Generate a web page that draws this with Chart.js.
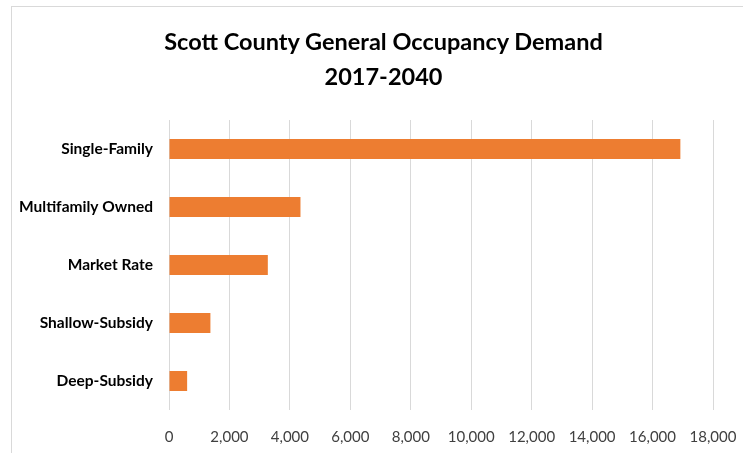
<!DOCTYPE html>
<html>
<head>
<meta charset="utf-8">
<script src="https://cdn.jsdelivr.net/npm/chart.js@4/dist/chart.umd.min.js"></script>
<style>
  html, body { margin: 0; padding: 0; background: #ffffff; overflow: hidden; }
  #wrap { position: relative; width: 743px; height: 453px; }
  #frame {
    position: absolute; left: 11px; top: 6px; width: 800px; height: 500px;
    border: 1px solid #d9d9d9; box-sizing: border-box; pointer-events: none;
  }
  #title {
    position: absolute; left: 0; top: 24px; width: 767px;
    text-align: center; color: #000000;
    font-family: Lato, "Open Sans", "Liberation Sans", sans-serif;
    font-weight: bold; font-size: 23.5px; line-height: 35px;
  }
  canvas { position: absolute; left: 0; top: 0; }
</style>
</head>
<body>
<div id="wrap">
  <div id="frame"></div>
  <canvas id="chart" width="743" height="453"></canvas>
  <div id="title"></div>
</div>
<script>
// Housing types and projected demand (units), 2017-2040
const categories = ['Single-Family', 'Multifamily Owned', 'Market Rate', 'Shallow-Subsidy', 'Deep-Subsidy'];
const demandUnits = [16920, 4350, 3270, 1370, 600];
const titleLines = ['Scott County General Occupancy Demand', '2017-2040'];
const axisMin = 0;
const axisMax = 18000;
const axisStep = 2000;

const FONT = 'Lato, "Open Sans", "Liberation Sans", sans-serif';

// two-line heading above the plot
const titleEl = document.getElementById('title');
titleLines.forEach(line => {
  const d = document.createElement('div');
  d.textContent = line;
  titleEl.appendChild(d);
});

new Chart(document.getElementById('chart'), {
  type: 'bar',
  data: {
    labels: categories,
    datasets: [{
      data: demandUnits,
      backgroundColor: '#ED7D31',
      borderWidth: 0,
      categoryPercentage: 1,
      barPercentage: 0.345
    }]
  },
  options: {
    indexAxis: 'y',
    responsive: false,
    animation: false,
    layout: { padding: { left: 0, right: 30, top: 120, bottom: 0 } },
    plugins: {
      legend: { display: false },
      tooltip: { enabled: false },
      title: { display: false }
    },
    scales: {
      x: {
        min: axisMin,
        max: axisMax,
        grid: { color: '#d9d9d9', lineWidth: 1, drawTicks: false },
        border: { display: false },
        ticks: {
          stepSize: axisStep,
          padding: 18,
          color: '#404040',
          font: { family: FONT, size: 15 },
          callback: v => Number(v).toLocaleString('en-US')
        },
        afterFit: s => { s.height = 43; s.paddingLeft = 0; s.paddingRight = 0; }
      },
      y: {
        grid: { display: false, drawTicks: false },
        border: { display: false },
        ticks: {
          padding: 16,
          color: '#000000',
          font: { family: FONT, size: 15.5, weight: 'bold' }
        },
        afterFit: s => { s.width = 169; }
      }
    }
  }
});
</script>
</body>
</html>
